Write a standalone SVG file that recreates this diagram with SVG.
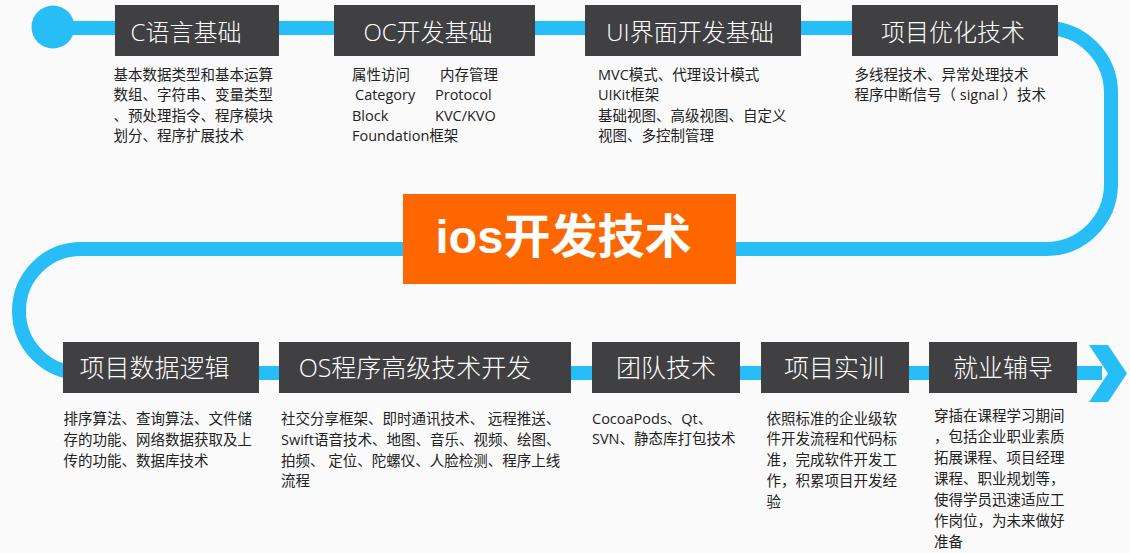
<svg xmlns="http://www.w3.org/2000/svg" width="1130" height="553" viewBox="0 0 1130 553">
<style>
.bg{fill:#fafafa}
.box{fill:#403f41}
.ttl{font-family:"Open Sans","Noto Sans CJK SC",sans-serif;font-size:24px;font-weight:300;fill:#ffffff;text-anchor:middle}
.ttl2{font-family:"Open Sans","Noto Sans CJK SC",sans-serif;font-size:25px;font-weight:300;fill:#ffffff;text-anchor:middle}
.desc{font-family:"Open Sans","Noto Sans CJK SC",sans-serif;font-size:14.5px;fill:#222222}
.line{fill:none;stroke:#27bdf6;stroke-width:14}
.blue{fill:#27bdf6}
</style>
<rect class="bg" x="0" y="0" width="1130" height="553"/>
<g id="connectors">
<path class="line" d="M 53 28 H 1046 A 65 65 0 0 1 1111 93 V 184 A 65 65 0 0 1 1046 249 H 81 A 62 62 0 0 0 81 373 H 1102"/>
<circle class="blue" cx="53" cy="27" r="21.5"/>
<polygon class="blue" points="1089,345 1108,345 1127,373.5 1108,402 1089,402 1108,373.5"/>
</g>
<g id="center">
<rect x="403" y="194" width="333" height="90" fill="#fe6600"/>
<text x="563.5" y="253" font-family="'Noto Sans CJK SC',sans-serif" font-size="47" font-weight="bold" fill="#ffffff" text-anchor="middle"><tspan font-family="'Liberation Sans',sans-serif">ios</tspan>开发技术</text>
</g>
<g id="node-c">
<rect class="box" x="115" y="5" width="164" height="51"/>
<text class="ttl" x="186" y="40.5">C语言基础</text>
<text class="desc" x="113.5" y="79.5">基本数据类型和基本运算</text>
<text class="desc" x="113.5" y="100">数组、字符串、变量类型</text>
<text class="desc" x="113.5" y="120.5">、预处理指令、程序模块</text>
<text class="desc" x="113.5" y="141">划分、程序扩展技术</text>
</g>
<g id="node-oc">
<rect class="box" x="334" y="5" width="201" height="51"/>
<text class="ttl" x="428" y="40.5">OC开发基础</text>
<text class="desc" y="79.5"><tspan x="352">属性访问</tspan><tspan x="440">内存管理</tspan></text>
<text class="desc" y="100"><tspan x="355">Category</tspan><tspan x="435">Protocol</tspan></text>
<text class="desc" y="120.5"><tspan x="352">Block</tspan><tspan x="435">KVC/KVO</tspan></text>
<text class="desc" x="352" y="141">Foundation框架</text>
</g>
<g id="node-ui">
<rect class="box" x="585" y="5" width="216" height="51"/>
<text class="ttl" x="690" y="40.5">UI界面开发基础</text>
<text class="desc" x="598" y="79.5">MVC模式、代理设计模式</text>
<text class="desc" x="598" y="100">UIKit框架</text>
<text class="desc" x="598" y="120.5">基础视图、高级视图、自定义</text>
<text class="desc" x="598" y="141">视图、多控制管理</text>
</g>
<g id="node-opt">
<rect class="box" x="852" y="5" width="206" height="51"/>
<text class="ttl" x="953" y="40.5">项目优化技术</text>
<text class="desc" x="854.5" y="79.5">多线程技术、异常处理技术</text>
<text class="desc" x="854.5" y="100">程序中断信号（ signal ）技术</text>
</g>
<g id="node-data">
<rect class="box" x="63" y="342" width="196" height="51"/>
<text class="ttl2" x="154.5" y="377">项目数据逻辑</text>
<text class="desc" x="63.5" y="424.3">排序算法、查询算法、文件储</text>
<text class="desc" x="63.5" y="445">存的功能、网络数据获取及上</text>
<text class="desc" x="63.5" y="465.7">传的功能、数据库技术</text>
</g>
<g id="node-os">
<rect class="box" x="279" y="342" width="292" height="51"/>
<text class="ttl2" x="415" y="377">OS程序高级技术开发</text>
<text class="desc" x="281" y="424.3">社交分享框架、即时通讯技术、 远程推送、</text>
<text class="desc" x="281" y="445">Swift语音技术、地图、音乐、视频、绘图、</text>
<text class="desc" x="281" y="465.7">拍频、 定位、陀螺仪、人脸检测、程序上线</text>
<text class="desc" x="281" y="486.4">流程</text>
</g>
<g id="node-team">
<rect class="box" x="592" y="342" width="148" height="51"/>
<text class="ttl2" x="666" y="377">团队技术</text>
<text class="desc" x="592" y="423.6">CocoaPods、Qt、</text>
<text class="desc" x="592" y="444.4">SVN、静态库打包技术</text>
</g>
<g id="node-train">
<rect class="box" x="761" y="342" width="148" height="51"/>
<text class="ttl2" x="834" y="377">项目实训</text>
<text class="desc" x="766.5" y="423.6">依照标准的企业级软</text>
<text class="desc" x="766.5" y="444.4">件开发流程和代码标</text>
<text class="desc" x="766.5" y="465.2">准，完成软件开发工</text>
<text class="desc" x="766.5" y="486">作，积累项目开发经</text>
<text class="desc" x="766.5" y="506.8">验</text>
</g>
<g id="node-job">
<rect class="box" x="929" y="342" width="148" height="51"/>
<text class="ttl2" x="1003" y="377">就业辅导</text>
<text class="desc" x="934" y="421.3">穿插在课程学习期间</text>
<text class="desc" x="934" y="442.3">，包括企业职业素质</text>
<text class="desc" x="934" y="463.3">拓展课程、项目经理</text>
<text class="desc" x="934" y="484.3">课程、职业规划等，</text>
<text class="desc" x="934" y="505.3">使得学员迅速适应工</text>
<text class="desc" x="934" y="526.3">作岗位，为未来做好</text>
<text class="desc" x="934" y="547.3">准备</text>
</g>
</svg>
